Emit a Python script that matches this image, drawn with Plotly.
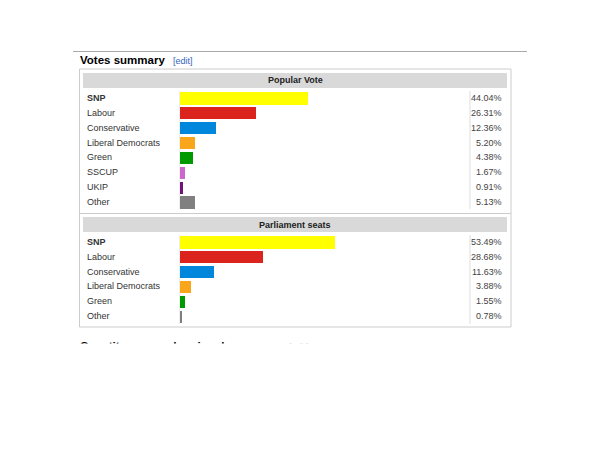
import plotly.graph_objects as go

# popular vote
vote_parties = ["SNP", "Labour", "Conservative", "Liberal Democrats", "Green", "SSCUP", "UKIP", "Other"]
vote_share = [44.04, 26.31, 12.36, 5.20, 4.38, 1.67, 0.91, 5.13]
vote_colors = ["#FFFF00", "#DC241F", "#0087DC", "#FAA61A", "#009900", "#CC66CC", "#70147A", "#808080"]

# parliament seats
seat_parties = ["SNP", "Labour", "Conservative", "Liberal Democrats", "Green", "Other"]
seat_share = [53.49, 28.68, 11.63, 3.88, 1.55, 0.78]
seat_colors = ["#FFFF00", "#DC241F", "#0087DC", "#FAA61A", "#009900", "#808080"]

# the page body has an 8px margin, so the figure starts at (8, 8)
OFF = 8
W, H = 600 - OFF, 450 - OFF
FONT = "Arial, Liberation Sans, sans-serif"


def px(x):
    return (x - OFF) / W


def py(y):
    return 1 - (y - OFF) / H


fig = go.Figure()
fig.add_trace(go.Bar(x=vote_share, y=vote_parties, orientation="h",
                     marker=dict(color=vote_colors, line=dict(width=0)),
                     width=0.82, xaxis="x", yaxis="y", hoverinfo="x+y"))
fig.add_trace(go.Bar(x=seat_share, y=seat_parties, orientation="h",
                     marker=dict(color=seat_colors, line=dict(width=0)),
                     width=0.82, xaxis="x2", yaxis="y2", hoverinfo="x+y"))

ann = []
shapes = []

# page heading
shapes.append(dict(type="line", xref="paper", yref="paper", x0=px(73), x1=px(527),
                   y0=py(51.5), y1=py(51.5), line=dict(color="#aaaaaa", width=1)))
ann.append(dict(text="<b>Votes summary</b>", x=px(77.5), y=py(60), xref="paper", yref="paper",
                xanchor="left", yanchor="middle", showarrow=False,
                font=dict(family=FONT, size=11.5, color="#000000")))
ann.append(dict(text="[edit]", x=px(171), y=py(60.5), xref="paper", yref="paper",
                xanchor="left", yanchor="middle", showarrow=False,
                font=dict(family=FONT, size=9, color="#3366bb")))

# outer box and separator
shapes.append(dict(type="rect", xref="paper", yref="paper", x0=px(79.5), x1=px(511),
                   y0=py(327), y1=py(69), line=dict(color="#cccccc", width=1), layer="below"))
shapes.append(dict(type="line", xref="paper", yref="paper", x0=px(79.5), x1=px(511),
                   y0=py(213.5), y1=py(213.5), line=dict(color="#cccccc", width=1)))

panels = [
    ("Popular Vote", 73, 88, 91, 209, vote_parties, vote_share, "y"),
    ("Parliament seats", 217, 232, 235, 324, seat_parties, seat_share, "y2"),
]
for title, h0, h1, c0, c1, parties, share, yr in panels:
    shapes.append(dict(type="rect", xref="paper", yref="paper", x0=px(83), x1=px(507),
                       y0=py(h1), y1=py(h0), line=dict(width=0), fillcolor="#d9d9d9", layer="below"))
    ann.append(dict(text="<b>" + title + "</b>", x=px(295), y=py((h0 + h1) / 2), xref="paper",
                    yref="paper", xanchor="center", yanchor="middle", showarrow=False,
                    font=dict(family=FONT, size=9, color="#222222")))
    # column rules
    shapes.append(dict(type="line", xref="paper", yref="paper", x0=px(470), x1=px(470),
                       y0=py(c1), y1=py(c0), line=dict(color="#dddddd", width=1)))
    shapes.append(dict(type="line", xref="paper", yref="paper", x0=px(179.5), x1=px(179.5),
                       y0=py(c1), y1=py(c0), line=dict(color="#eeeeee", width=1), layer="below"))
    for p, v in zip(parties, share):
        label = "<b>" + p + "</b>" if p == "SNP" else p
        ann.append(dict(text=label, x=px(84.5), y=p, xref="paper", yref=yr,
                        xanchor="left", yanchor="middle", showarrow=False,
                        font=dict(family=FONT, size=9, color="#333333")))
        ann.append(dict(text=f"{v:.2f}%", x=px(504), y=p, xref="paper", yref=yr,
                        xanchor="right", yanchor="middle", showarrow=False,
                        font=dict(family=FONT, size=9, color="#444444")))

# next heading, cut off at the bottom of the screenshot
ann.append(dict(text="<b>Constituency and regional summary</b>", x=px(77.5), y=py(346),
                xref="paper", yref="paper", xanchor="left", yanchor="middle", showarrow=False,
                font=dict(family=FONT, size=11.5, color="#000000")))
ann.append(dict(text="[edit]", x=px(287), y=py(346.5), xref="paper", yref="paper",
                xanchor="left", yanchor="middle", showarrow=False,
                font=dict(family=FONT, size=9, color="#9fb8e0")))
ann.append(dict(text=" ", x=px(70), y=py(343), xref="paper", yref="paper",
                xanchor="left", yanchor="top", showarrow=False, width=300, height=24,
                bgcolor="#ffffff", borderpad=0, font=dict(size=10)))

axis_common = dict(showgrid=False, zeroline=False, showticklabels=False, ticks="",
                   showline=False, fixedrange=True)
fig.update_layout(
    width=W, height=H,
    margin=dict(l=0, r=0, t=0, b=0),
    paper_bgcolor="#ffffff", plot_bgcolor="rgba(0,0,0,0)",
    showlegend=False, bargap=0,
    xaxis=dict(domain=[px(180), px(470)], range=[0, 100], anchor="y", **axis_common),
    yaxis=dict(domain=[py(209.5), py(90.5)], range=[7.5, -0.5], anchor="x",
               categoryorder="array", categoryarray=vote_parties, **axis_common),
    xaxis2=dict(domain=[px(180), px(470)], range=[0, 100], anchor="y2", **axis_common),
    yaxis2=dict(domain=[py(323.5), py(234.5)], range=[5.5, -0.5], anchor="x2",
                categoryorder="array", categoryarray=seat_parties, **axis_common),
    shapes=shapes,
    annotations=ann,
)

fig.write_html("out.html")
